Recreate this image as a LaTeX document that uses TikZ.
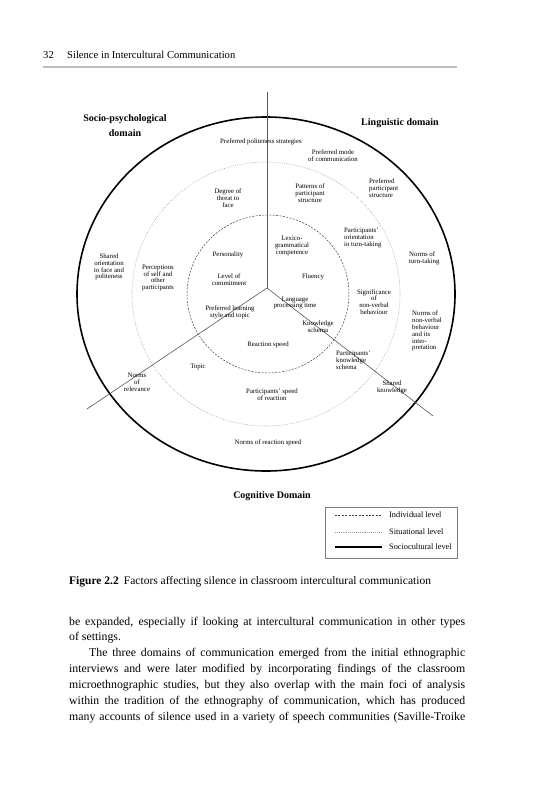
\documentclass[tikz,border=0pt]{standalone}
\usepackage{fontspec}
\setmainfont{Liberation Serif}
\newcommand{\lblfont}{\fontsize{6.8}{6.9}\selectfont}
\newcommand{\bodyfont}{\fontsize{11.8}{13}\selectfont}

\begin{document}
\begin{tikzpicture}[x=1pt,y=-1pt]

\tikzstyle lbl=[font=\lblfont, align=center, inner sep=0pt]
\tikzstyle lbll=[lbl, align=left, anchor=west]
\tikzstyle dom=[font=\fontsize{10}{15}\selectfont\bfseries, align=center, inner sep=0pt]
\tikzstyle indiv=[dash pattern=on 2pt off 1.4pt, line width=0.5pt, black!75]
\tikzstyle situ=[dash pattern=on 0.6pt off 1.3pt, line width=0.6pt, black!40]
\tikzstyle socio=[line width=1.6pt]
\tikzstyle axis=[line width=0.6pt, black!65]
\tikzstyle leg=[font=\fontsize{8.3}{10}\selectfont, inner sep=0pt, anchor=west]
\tikzstyle bodyline=[anchor=west, inner sep=0pt, text width=396pt, align=justify, font=\bodyfont, execute at begin node={\parfillskip=0pt\relax}]
\tikzstyle bodylast=[anchor=west, inner sep=0pt, font=\bodyfont]

\fill[white] (0,0) rectangle (533,800);
\useasboundingbox (0,0) rectangle (533,800);

% running head
\node (pg) [anchor=west, inner sep=0pt, font=\fontsize{10.6}{12}\selectfont] at (43,55) {32};
\node (head) [anchor=west, inner sep=0pt, font=\fontsize{10.6}{12}\selectfont] at (67,55) {Silence in Intercultural Communication};
\coordinate (r1) at (43,67);
\coordinate (r2) at (457,67);
\draw [black!25, line width=1.5pt] (r1) -- (r2);

% levels
\coordinate (o) at (266,294);
\draw [socio] (o) ellipse [x radius=189pt, y radius=177pt];
\draw [situ] (o) ellipse [x radius=134pt, y radius=132pt];
\draw [indiv] (268,294) ellipse [x radius=81pt, y radius=79pt];

% domain borders
\coordinate (c) at (267,288);
\coordinate (top) at (267,92);
\coordinate (ll) at (87,409);
\coordinate (lr) at (433,416);
\draw [axis, line width=0.9pt] (c) -- (top);
\draw [axis] (c) -- (ll);
\draw [axis] (c) -- (lr);

\node (socdom) [dom] at (125,126) {Socio-psychological\\domain};
\node (lingdom) [dom] at (400,123) {Linguistic domain};
\node (cogdom) [dom] at (272,496) {Cognitive Domain};

\node (pol) [lbl] at (261,142) {Preferred politeness strategies};
\node (mode) [lbl] at (333,156) {Preferred mode\\of communication};
\node (patt) [lbl] at (310,193) {Patterns of\\participant\\structure};
\node (ppart) [lbll] at (369,188) {Preferred\\participant\\structure};
\node (threat) [lbl] at (228,198) {Degree of\\threat to\\face};
\node (orient) [lbll] at (344,238) {Participants'\\orientation\\in turn-taking};
\node (lex) [lbl] at (292,246) {Lexico-\\grammatical\\competence};
\node (pers) [lbl] at (228,255) {Personality};
\node (commit) [lbl] at (229,280) {Level of\\commitment};
\node (flu) [lbl] at (313,277) {Fluency};
\node (proc) [lbl] at (295,303) {Language\\processing time};
\node (learn) [lbl] at (230,312) {Preferred learning\\style and topic};
\node (kschema) [lbl] at (318,327) {Knowledge\\schema};
\node (speed) [lbl] at (268,345) {Reaction speed};
\node (shface) [lbl] at (109,267) {Shared\\orientation\\to face and\\politeness};
\node (percep) [lbl] at (158,278) {Perceptions\\of self and\\other\\participants};
\node (topic) [lbl] at (198,367) {Topic};
\node (relev) [lbl] at (137,382) {Norms\\of\\relevance};
\node (pspeed) [lbl] at (272,395) {Participants' speed\\of reaction};
\node (nspeed) [lbl] at (268,443) {Norms of reaction speed};
\node (nturn) [lbll] at (409,258) {Norms of\\turn-taking};
\node (signif) [lbl] at (374,302) {Significance\\of\\non-verbal\\behaviour};
\node (nverb) [lbll] at (412,331) {Norms of\\non-verbal\\behaviour\\and its\\inter-\\pretation};
\node (pknow) [lbll] at (336,360) {Participants'\\knowledge\\schema};
\node (shknow) [lbl] at (392,387) {Shared\\knowledge};

% legend
\node (legbox) [draw=black!50, line width=0.6pt, minimum width=132pt, minimum height=51pt, inner sep=0pt, anchor=north west] at (325,507) {};
\foreach \y/\s/\t in {515/indiv/Individual level, 532/situ/Situational level, 547/socio/Sociocultural level}
{
\coordinate (s\y) at (335,\y);
\coordinate (e\y) at (382,\y);
\draw [\s] (s\y) -- (e\y);
\node (t\y) [leg] at (389,\y) {\t};
}

% caption and text
\node (cap) [anchor=west, inner sep=0pt, font=\fontsize{11.5}{13}\selectfont] at (69,582) {\textbf{Figure 2.2}\hspace{0.45em}Factors affecting silence in classroom intercultural communication};

\node (b1) [bodyline] at (69,623) {be expanded, especially if looking at intercultural communication in other types};
\node (b2) [bodylast] at (69,638) {of settings.};
\node (b3) [bodyline, text width=376pt] at (89,654) {The three domains of communication emerged from the initial ethnographic};
\node (b4) [bodyline] at (69,670) {interviews and were later modified by incorporating findings of the classroom};
\node (b5) [bodyline] at (69,686) {microethnographic studies, but they also overlap with the main foci of analysis};
\node (b6) [bodyline] at (69,702) {within the tradition of the ethnography of communication, which has produced};
\node (b7) [bodyline] at (69,718) {many accounts of silence used in a variety of speech communities (Saville-Troike};

\end{tikzpicture}
\end{document}
